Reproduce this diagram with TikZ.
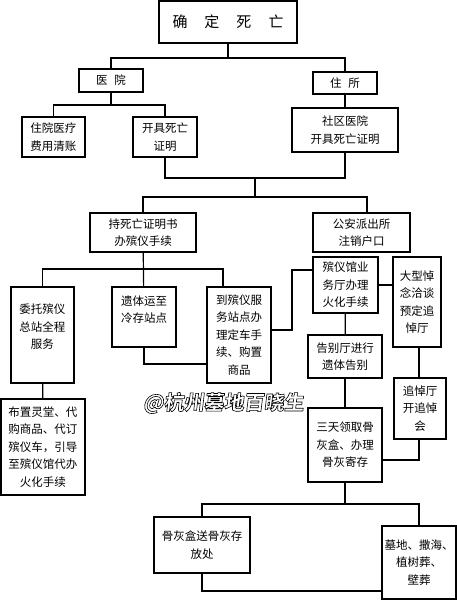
\documentclass[tikz,border=0pt]{standalone}
\usepackage{fontspec}
\setmainfont{Noto Sans CJK SC}
\newfontfamily\markfont{Noto Sans CJK SC}[FakeSlant=0.12]
\newcommand{\outlined}[1]{\special{pdf:literal direct 2 Tr 0.6 w 0 G}#1\special{pdf:literal direct 0 Tr}}
\begin{document}
\begin{tikzpicture}[x=1pt,y=-1pt,
	box/.style={draw,line width=1.2pt,inner sep=0pt,align=center,
		font=\fontsize{11.5}{17.5}\selectfont},
	sz/.style 2 args={minimum width=#1pt,minimum height=#2pt},
	link/.style={line width=1.2pt}]
	
	\useasboundingbox (0,0) rectangle (457,600);
	
	\node[box,sz={138}{42},font=\fontsize{15}{15}\selectfont] (dead) at (228,22)
		{确\hspace{17pt}定\hspace{17pt}死\hspace{17pt}亡};
	\node[box,sz={64}{23}] (hosp) at (111,80.5) {医\hspace{7pt}院};
	\node[box,sz={64}{22}] (home) at (345,83) {住\hspace{7pt}所};
	\node[box,sz={63}{40}] (bill) at (53.5,137) {住院医疗\\费用清账};
	\node[box,sz={64}{40}] (cert) at (165,137) {开具死亡\\证明};
	\node[box,sz={106}{44}] (clinic) at (345,130) {社区医院\\开具死亡证明};
	
	\node[box,sz={106}{39}] (funeral) at (143,232.5) {持死亡证明书\\办殡仪手续};
	\node[box,sz={97}{39}] (police) at (361.5,232.5) {公安派出所\\注销户口};
	
	\node[box,sz={63}{96}] (agent) at (42.5,335) {委托殡仪\\总站全程\\服务\\[0pt]};
	\node[box,sz={64}{60}] (cold) at (144,317) {遗体运至\\冷存站点\\[-2pt]};
	\node[box,sz={64}{96}] (station) at (239,335) {到殡仪服\\务站点办\\理定车手\\续、购置\\商品};
	\node[box,sz={65}{56}] (hall) at (345.5,285) {殡仪馆业\\务厅办理\\火化手续};
	\node[box,sz={48}{90}] (book) at (417,302) {大型悼\\念洽谈\\预定追\\悼厅};
	\node[box,sz={74}{43}] (farewell) at (345,356.5) {告别厅进行\\遗体告别};
	\node[box,sz={52}{61}] (memorial) at (420,408.5) {追悼厅\\开追悼\\会};
	\node[box,sz={84}{96}] (setup) at (43,447) {布置灵堂、代\\购商品、代订\\殡仪车，引导\\至殡仪馆代办\\火化手续};
	\node[box,sz={74}{74}] (ashes) at (345,445) {三天领取骨\\灰盒、办理\\骨灰寄存};
	\node[box,sz={96}{56}] (store) at (202,545) {骨灰盒送骨灰存\\放处};
	\node[box,sz={74}{73}] (burial) at (419,562.5) {墓地、撒海、\\植树葬、\\壁葬};
	
	\coordinate (j1) at (228,58);
	\coordinate (j2) at (111,105);
	\coordinate (j3) at (255,178);
	\coordinate (j4) at (255,197);
	\coordinate (j5) at (143,269);
	\coordinate (j6) at (292,300);
	\coordinate (j7) at (345,504);
	
	\draw[link] (dead) -- (j1);
	\draw[link] (hosp.north) |- (j1) -| (home.north);
	\draw[link] (hosp) -- (j2);
	\draw[link] (bill.north) |- (j2) -| (cert.north);
	\draw[link] (home) -- (clinic);
	\draw[link] (cert.south) |- (j3) -| (clinic.south);
	\draw[link] (j3) -- (j4);
	\draw[link] (funeral.north) |- (j4) -| ([xshift=5.5pt]police.north);
	\draw[link] (funeral) -- (cold);
	\draw[link] (agent.north) |- (j5) -| ([xshift=-16pt]station.north);
	\draw[link] (cold.south) |- ([yshift=-29pt]station.west);
	\draw[link] ([yshift=5pt]station.east) -| (j6) |- ([yshift=15pt]hall.west);
	\draw[link] (hall.east) -- (hall.east -| book.west);
	\draw[link] (hall) -- (farewell);
	\draw[link] (farewell) -- (ashes);
	\draw[link] ([xshift=2pt]book.south) -- ([xshift=-1pt]memorial.north);
	\draw[link] ([xshift=-1pt]memorial.south) |- ([yshift=-15pt]ashes.east);
	\draw[link] (agent) -- (setup);
	\draw[link] (ashes) -- (j7);
	\draw[link] (store.north) |- (j7) -| (burial.north);
	\draw[link] (store.south) |- ([yshift=-28.5pt]burial.west);
	
	\node[font=\markfont\bfseries\fontsize{20}{20}\selectfont,color=white] (mark) at (223.5,403)
		{\outlined{@杭州墓地百晓生}};
	
\end{tikzpicture}
\end{document}
